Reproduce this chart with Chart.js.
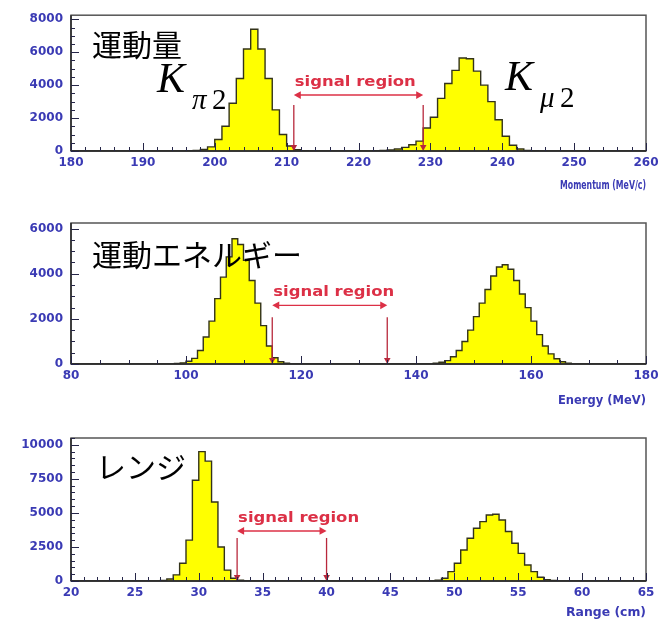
<!DOCTYPE html>
<html>
<head>
<meta charset="utf-8">
<script src="https://cdn.jsdelivr.net/npm/chart.js@4.4.1/dist/chart.umd.min.js"></script>
<style>
  html, body { margin: 0; padding: 0; background: #ffffff; }
  #wrap { position: relative; width: 668px; height: 623px; overflow: hidden; }
  #wrap canvas { position: absolute; left: 0; }
</style>
</head>
<body>
<div id="wrap">
  <canvas id="pMom" width="668" height="200" style="top:0px"></canvas>
  <canvas id="pEne" width="668" height="210" style="top:200px"></canvas>
  <canvas id="pRng" width="668" height="213" style="top:410px"></canvas>
</div>
<script>
// ---- Momentum (MeV/c), 1 MeV/c bins ----
const momBinWidth = 1;
const momKpi2Start = 196;
const momKpi2Counts = [20, 40, 90, 250, 700, 1500, 2900, 4400, 6200, 7400, 6200, 4400, 2500, 1000, 300, 80, 20];
const momKmu2Start = 222;
const momKmu2Counts = [15, 30, 60, 120, 220, 380, 600, 1400, 2050, 3200, 4100, 4900, 5650, 5600, 4850, 4000, 3000, 1900, 900, 350, 120, 40, 15];
const momXTicks = [180, 190, 200, 210, 220, 230, 240, 250, 260];
const momYTicks = [0, 2000, 4000, 6000, 8000];
const momSignal = [211, 229];

// ---- Kinetic energy (MeV), 1 MeV bins ----
const eneBinWidth = 1;
const eneKpi2Start = 98;
const eneKpi2Counts = [20, 50, 120, 250, 600, 1200, 1900, 2900, 3850, 4750, 5550, 5300, 4600, 3700, 2700, 1700, 800, 280, 100, 30];
const eneKmu2Start = 143;
const eneKmu2Counts = [30, 80, 150, 320, 600, 1000, 1500, 2100, 2700, 3300, 3900, 4300, 4400, 4200, 3700, 3100, 2500, 1900, 1300, 800, 450, 230, 100, 40];
const eneXTicks = [80, 100, 120, 140, 160, 180];
const eneYTicks = [0, 2000, 4000, 6000];
const eneSignal = [115, 135];

// ---- Range (cm), 0.5 cm bins ----
const rngBinWidth = 0.5;
const rngKpi2Start = 27;
const rngKpi2Counts = [40, 150, 450, 1300, 3000, 7400, 9500, 8800, 5800, 2500, 800, 200, 50];
const rngKmu2Start = 48;
const rngKmu2Counts = [20, 60, 200, 690, 1300, 2280, 3140, 3870, 4360, 4850, 4900, 4480, 3630, 2770, 2030, 1180, 690, 270, 100, 40];
const rngXTicks = [20, 25, 30, 35, 40, 45, 50, 55, 60, 65];
const rngYTicks = [0, 2500, 5000, 7500, 10000];
const rngSignal = [33, 40];

const TICK_BLUE = '#3a3ab4';
const SIGNAL_RED = '#dc3046';
const DROP_RED = '#b8283c';
const FRAME = '#555555';
const TICK_DARK = '#262648';

// Fill a full-range set of bins and turn it into step points (value holds until the next edge).
function histogramPoints(axisMin, axisMax, width, peaks) {
  const n = Math.round((axisMax - axisMin) / width);
  const counts = new Array(n).fill(0);
  peaks.forEach(p => {
    const i0 = Math.round((p.start - axisMin) / width);
    p.counts.forEach((c, k) => {
      if (i0 + k >= 0 && i0 + k < n) counts[i0 + k] = c;
    });
  });
  const pts = counts.map((c, i) => ({ x: axisMin + i * width, y: c }));
  pts.push({ x: axisMax, y: 0 });
  return pts;
}

function arrowHead(ctx, x, y, dir, size) {
  // dir: 'left' | 'right' | 'down'
  ctx.beginPath();
  if (dir === 'left') {
    ctx.moveTo(x, y); ctx.lineTo(x + size, y - size * 0.55); ctx.lineTo(x + size, y + size * 0.55);
  } else if (dir === 'right') {
    ctx.moveTo(x, y); ctx.lineTo(x - size, y - size * 0.55); ctx.lineTo(x - size, y + size * 0.55);
  } else {
    ctx.moveTo(x, y); ctx.lineTo(x - size * 0.55, y - size); ctx.lineTo(x + size * 0.55, y - size);
  }
  ctx.closePath();
  ctx.fill();
}

function fitText(ctx, text, x, y, targetWidth, align) {
  const w = ctx.measureText(text).width;
  const sx = targetWidth / w;
  ctx.save();
  ctx.translate(align === 'right' ? x - targetWidth : x, y);
  ctx.scale(sx, 1);
  ctx.textAlign = 'left';
  ctx.fillText(text, 0, 0);
  ctx.restore();
}

const panelDecor = {
  id: 'panelDecor',
  afterDraw(chart, args, o) {
    const ctx = chart.ctx;
    const a = chart.chartArea;
    const xs = chart.scales.x, ys = chart.scales.y;
    ctx.save();

    // signal region: double arrow, label and the two drop lines
    const xl = xs.getPixelForValue(o.signal[0]);
    const xh = xs.getPixelForValue(o.signal[1]);
    const ya = ys.getPixelForValue(o.arrowLevel);
    const yd = ys.getPixelForValue(o.dropTop);
    ctx.strokeStyle = SIGNAL_RED;
    ctx.fillStyle = SIGNAL_RED;
    ctx.lineWidth = 1.4;
    ctx.beginPath();
    ctx.moveTo(xl + 4, ya); ctx.lineTo(xh - 4, ya);
    ctx.stroke();
    arrowHead(ctx, xl, ya, 'left', 7);
    arrowHead(ctx, xh, ya, 'right', 7);
    ctx.strokeStyle = DROP_RED;
    ctx.fillStyle = DROP_RED;
    ctx.lineWidth = 1.3;
    [xl, xh].forEach(xv => {
      ctx.beginPath();
      ctx.moveTo(xv, yd); ctx.lineTo(xv, a.bottom - 4);
      ctx.stroke();
      arrowHead(ctx, xv, a.bottom, 'down', 6);
    });
    ctx.fillStyle = SIGNAL_RED;
    ctx.font = 'bold 14px "DejaVu Sans"';
    ctx.textBaseline = 'alphabetic';
    fitText(ctx, 'signal region', xl + 1, ya - 9, 121, 'left');

    // frame
    ctx.strokeStyle = FRAME;
    ctx.lineWidth = 1.5;
    ctx.strokeRect(a.left, a.top, a.right - a.left, a.bottom - a.top);
    ctx.strokeStyle = '#222222';
    ctx.lineWidth = 1.4;
    ctx.beginPath();
    ctx.moveTo(a.left, a.bottom); ctx.lineTo(a.right, a.bottom);
    ctx.moveTo(a.left, a.top); ctx.lineTo(a.left, a.bottom);
    ctx.stroke();

    // inward tick marks on the bottom and left axes
    ctx.strokeStyle = TICK_DARK;
    ctx.lineWidth = 1;
    ctx.beginPath();
    for (let v = xs.min; v <= xs.max + 1e-9; v += o.xMinor) {
      const px = Math.round(xs.getPixelForValue(v)) + 0.5;
      const major = o.xTicks.some(t => Math.abs(t - v) < 1e-6);
      ctx.moveTo(px, a.bottom); ctx.lineTo(px, a.bottom - (major ? 8 : 4));
    }
    for (let v = 0; v <= ys.max + 1e-9; v += o.yMinor) {
      const py = Math.round(ys.getPixelForValue(v)) + 0.5;
      const major = o.yTicks.some(t => Math.abs(t - v) < 1e-6);
      ctx.moveTo(a.left, py); ctx.lineTo(a.left + (major ? 8 : 4), py);
    }
    ctx.stroke();

    // axis title, right-aligned under the plot
    ctx.fillStyle = TICK_BLUE;
    ctx.font = 'bold 12px "DejaVu Sans"';
    ctx.textBaseline = 'alphabetic';
    fitText(ctx, o.title, a.right, o.titleY, o.titleWidth, 'right');

    // text labels inside the plot
    o.labels.forEach(l => {
      ctx.fillStyle = '#000000';
      ctx.font = l.font;
      ctx.textAlign = 'left';
      ctx.textBaseline = 'alphabetic';
      ctx.fillText(l.text, l.x, l.y);
    });
    ctx.restore();
  }
};

function kaonLabel(x, y, sub, subGreek) {
  return [
    { text: 'K', x: x, y: y, font: 'italic 42px "Liberation Serif"' },
    { text: subGreek, x: x + 35, y: y + 17, font: 'italic 29px "Liberation Serif"' },
    { text: sub, x: x + 55, y: y + 17, font: '29px "Liberation Serif"' }
  ];
}

const jpFont = '30px "Noto Sans CJK JP"';

const panels = [
  {
    id: 'pMom', h: 200, box: { left: 71, right: 646, top: 11, bottom: 151 },
    xMin: 180, xMax: 260, yMax: 8250, binWidth: momBinWidth,
    peaks: [{ start: momKpi2Start, counts: momKpi2Counts }, { start: momKmu2Start, counts: momKmu2Counts }],
    deco: {
      signal: momSignal, arrowLevel: 3400, dropTop: 2800,
      xTicks: momXTicks, yTicks: momYTicks, xMinor: 2, yMinor: 500,
      title: 'Momentum (MeV/c)', titleY: 189, titleWidth: 86,
      labels: [{ text: '運動量', x: 92, y: 56, font: jpFont }]
        .concat(kaonLabel(157, 92, '2', 'π'))
        .concat(kaonLabel(505, 90, '2', 'μ'))
    }
  },
  {
    id: 'pEne', h: 210, box: { left: 71, right: 646, top: 23, bottom: 164 },
    xMin: 80, xMax: 180, yMax: 6250, binWidth: eneBinWidth,
    peaks: [{ start: eneKpi2Start, counts: eneKpi2Counts }, { start: eneKmu2Start, counts: eneKmu2Counts }],
    deco: {
      signal: eneSignal, arrowLevel: 2600, dropTop: 2070,
      xTicks: eneXTicks, yTicks: eneYTicks, xMinor: 5, yMinor: 500,
      title: 'Energy (MeV)', titleY: 204, titleWidth: 88,
      labels: [{ text: '運動エネルギー', x: 92, y: 66, font: jpFont }]
    }
  },
  {
    id: 'pRng', h: 213, box: { left: 71, right: 646, top: 28, bottom: 171 },
    xMin: 20, xMax: 65, yMax: 10500, binWidth: rngBinWidth,
    peaks: [{ start: rngKpi2Start, counts: rngKpi2Counts }, { start: rngKmu2Start, counts: rngKmu2Counts }],
    deco: {
      signal: rngSignal, arrowLevel: 3675, dropTop: 3160,
      xTicks: rngXTicks, yTicks: rngYTicks, xMinor: 1, yMinor: 500,
      title: 'Range (cm)', titleY: 206, titleWidth: 80,
      labels: [{ text: 'レンジ', x: 96, y: 68, font: jpFont }]
    }
  }
];

const tickFont = { family: 'DejaVu Sans', size: 12, weight: 'bold' };

panels.forEach(p => {
  new Chart(document.getElementById(p.id), {
    type: 'line',
    data: {
      datasets: [{
        data: histogramPoints(p.xMin, p.xMax, p.binWidth, p.peaks),
        stepped: true,
        fill: 'origin',
        backgroundColor: '#ffff00',
        borderColor: '#33331a',
        borderWidth: 1.4,
        pointRadius: 0,
        tension: 0
      }]
    },
    options: {
      responsive: false,
      animation: false,
      events: [],
      layout: { padding: { left: 0, right: 668 - p.box.right, top: p.box.top, bottom: 0 } },
      plugins: { legend: { display: false }, tooltip: { enabled: false }, panelDecor: p.deco },
      scales: {
        x: {
          type: 'linear', min: p.xMin, max: p.xMax,
          grid: { display: false, drawTicks: false },
          border: { display: false },
          afterBuildTicks: s => { s.ticks = p.deco.xTicks.map(v => ({ value: v })); },
          afterFit: s => { s.height = p.h - p.box.bottom; },
          ticks: { autoSkip: false, maxRotation: 0, minRotation: 0, padding: 5, color: TICK_BLUE, font: tickFont,
                   callback: v => String(v) }
        },
        y: {
          type: 'linear', min: 0, max: p.yMax,
          grid: { display: false, drawTicks: false },
          border: { display: false },
          afterBuildTicks: s => { s.ticks = p.deco.yTicks.map(v => ({ value: v })); },
          afterFit: s => { s.width = p.box.left; },
          ticks: { padding: 8, color: TICK_BLUE, font: tickFont, callback: v => String(v) }
        }
      }
    },
    plugins: [panelDecor]
  });
});
</script>
</body>
</html>
